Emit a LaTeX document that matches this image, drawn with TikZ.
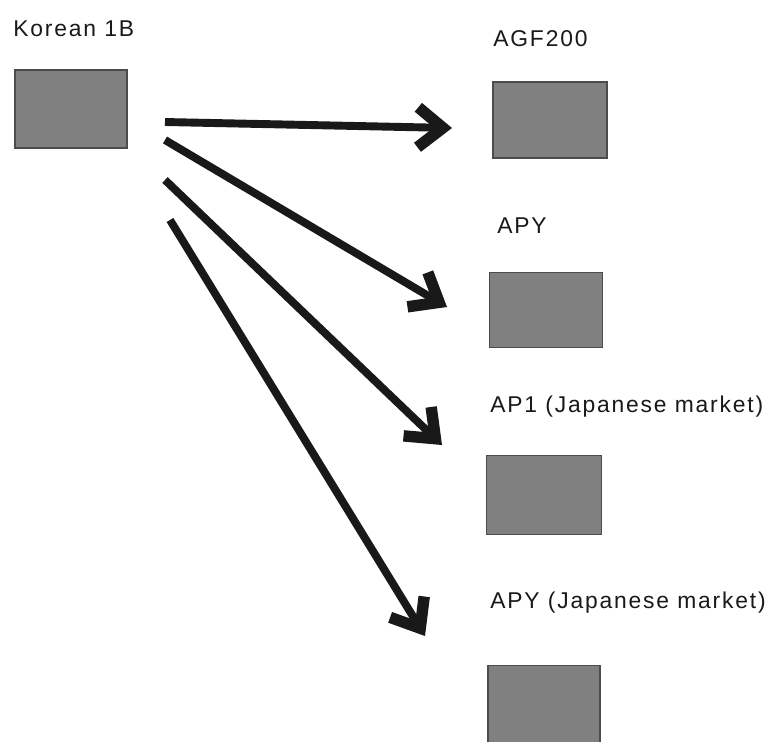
\documentclass[tikz,border=0pt]{standalone}
\usepackage{fontspec}
\newfontfamily\labelfont[LetterSpace=8]{Liberation Sans}
\usepackage{tikz}
\usetikzlibrary{positioning,arrows.meta}
\tikzset{
  flowarrow/.style={-{Straight Barb[length=5mm, width=8mm, line width=6.5pt]}, line width=4.5pt, black!90},
  chipbox/.style={draw=black!70, line width=1pt, fill=black!50, minimum width=2.26cm, minimum height=1.54cm, inner sep=0pt},
  chiplabel/.style={anchor=base west, inner sep=0pt, text=black!90, font=\labelfont\fontsize{13}{15}\selectfont}
}

\begin{document}
\begin{tikzpicture}[x=0.02cm, y=-0.02cm]
  \clip (0,0) rectangle (773,741);
  \fill[white] (0,0) rectangle (773,741);

  % source
  \node[chiplabel] (lkor) at (13,36) {Korean 1B};
  \node[chipbox, minimum width=2.24cm, minimum height=1.56cm] (kor) at (71,109) {};

  % targets
  \node[chiplabel] (lagf) at (493,46) {AGF200};
  \node[chipbox, minimum width=2.28cm, minimum height=1.52cm] (agf) at (550,120) {};
  \node[chiplabel] (lapy) at (497,233) {APY};
  \node[chipbox, minimum width=2.26cm, minimum height=1.5cm] (apy) at (546,310) {};
  \node[chiplabel] (lapo) at (490,412) {AP1 (Japanese market)};
  \node[chipbox, minimum width=2.3cm, minimum height=1.58cm] (apo) at (544,495) {};
  \node[chiplabel] (lapj) at (490,608) {APY (Japanese market)};
  \node[chipbox, minimum width=2.24cm, minimum height=1.7cm] (apj) at (544,708) {};

  % arrow ends
  \coordinate (s1) at (165,122);
  \coordinate (s2) at (165,140);
  \coordinate (s3) at (165,180);
  \coordinate (s4) at (170,220);
  \coordinate (t1) at (452,128);
  \coordinate (t2) at (447,307);
  \coordinate (t3) at (442,445);
  \coordinate (t4) at (425,636);

  \draw[flowarrow] (s1) -- (t1);
  \draw[flowarrow] (s2) -- (t2);
  \draw[flowarrow] (s3) -- (t3);
  \draw[flowarrow] (s4) -- (t4);
\end{tikzpicture}
\end{document}
